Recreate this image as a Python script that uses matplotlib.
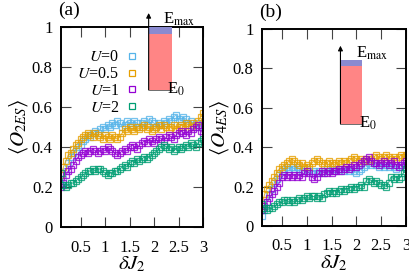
import matplotlib
matplotlib.use("Agg")
import matplotlib.pyplot as plt
from matplotlib.patches import Rectangle

plt.rcParams['font.family'] = ['Liberation Serif', 'DejaVu Serif']
plt.rcParams['mathtext.fontset'] = 'stix'
plt.rcParams['font.size'] = 11

x = [0.10, 0.15, 0.20, 0.25, 0.30, 0.35, 0.40, 0.45, 0.50, 0.55,
     0.60, 0.65, 0.70, 0.75, 0.80, 0.85, 0.90, 0.95, 1.00, 1.05,
     1.10, 1.15, 1.20, 1.25, 1.30, 1.35, 1.40, 1.45, 1.50, 1.55,
     1.60, 1.65, 1.70, 1.75, 1.80, 1.85, 1.90, 1.95, 2.00, 2.05,
     2.10, 2.15, 2.20, 2.25, 2.30, 2.35, 2.40, 2.45, 2.50, 2.55,
     2.60, 2.65, 2.70, 2.75, 2.80, 2.85, 2.90, 2.95, 3.00]

labels = ["$U$=0", "$U$=0.5", "$U$=1", "$U$=2"]
colors = ["#56B4E9", "#E69F00", "#9400D3", "#009E73"]

# panel (a): <O_2ES>
a_U0 = [0.21, 0.24, 0.28, 0.32, 0.35, 0.37, 0.38, 0.40, 0.41, 0.43,
        0.44, 0.46, 0.45, 0.47, 0.48, 0.47, 0.49, 0.50, 0.49, 0.51,
        0.50, 0.52, 0.51, 0.53, 0.52, 0.50, 0.51, 0.53, 0.52, 0.51,
        0.53, 0.52, 0.50, 0.52, 0.53, 0.51, 0.54, 0.53, 0.52, 0.50,
        0.52, 0.51, 0.53, 0.52, 0.54, 0.53, 0.55, 0.56, 0.54, 0.53,
        0.55, 0.54, 0.52, 0.53, 0.51, 0.52, 0.50, 0.51, 0.52]
a_U05 = [0.26, 0.30, 0.33, 0.36, 0.37, 0.39, 0.41, 0.42, 0.44, 0.45,
         0.46, 0.47, 0.46, 0.45, 0.47, 0.46, 0.45, 0.44, 0.46, 0.45,
         0.44, 0.46, 0.45, 0.44, 0.45, 0.47, 0.49, 0.48, 0.50, 0.49,
         0.48, 0.50, 0.49, 0.50, 0.51, 0.49, 0.50, 0.48, 0.49, 0.50,
         0.51, 0.49, 0.51, 0.50, 0.49, 0.50, 0.51, 0.49, 0.50, 0.51,
         0.50, 0.52, 0.51, 0.50, 0.52, 0.51, 0.53, 0.55, 0.57]
a_U1 = [0.20, 0.22, 0.26, 0.28, 0.29, 0.31, 0.33, 0.35, 0.36, 0.37,
        0.38, 0.37, 0.38, 0.39, 0.38, 0.37, 0.38, 0.39, 0.38, 0.40,
        0.39, 0.38, 0.37, 0.36, 0.37, 0.38, 0.39, 0.38, 0.40, 0.41,
        0.40, 0.39, 0.41, 0.42, 0.43, 0.42, 0.44, 0.43, 0.42, 0.44,
        0.45, 0.44, 0.43, 0.45, 0.46, 0.45, 0.44, 0.46, 0.47, 0.48,
        0.47, 0.46, 0.48, 0.47, 0.49, 0.50, 0.51, 0.48, 0.47]
a_U2 = [0.27, 0.21, 0.20, 0.21, 0.22, 0.22, 0.23, 0.24, 0.25, 0.26,
        0.27, 0.28, 0.28, 0.29, 0.28, 0.29, 0.29, 0.28, 0.27, 0.26,
        0.27, 0.27, 0.28, 0.28, 0.29, 0.30, 0.31, 0.30, 0.32, 0.33,
        0.32, 0.34, 0.33, 0.34, 0.35, 0.34, 0.35, 0.36, 0.37, 0.38,
        0.39, 0.40, 0.41, 0.40, 0.39, 0.40, 0.38, 0.39, 0.40, 0.39,
        0.40, 0.41, 0.40, 0.42, 0.41, 0.40, 0.42, 0.43, 0.44]

# panel (b): <O_4ES>
b_U0 = [0.05, 0.08, 0.12, 0.16, 0.19, 0.22, 0.24, 0.26, 0.28, 0.29,
        0.30, 0.29, 0.30, 0.29, 0.30, 0.29, 0.28, 0.28, 0.29, 0.28,
        0.27, 0.28, 0.27, 0.28, 0.27, 0.28, 0.29, 0.28, 0.29, 0.28,
        0.29, 0.28, 0.29, 0.28, 0.29, 0.28, 0.29, 0.28, 0.27, 0.28,
        0.29, 0.30, 0.31, 0.32, 0.31, 0.32, 0.31, 0.30, 0.31, 0.30,
        0.31, 0.30, 0.31, 0.30, 0.29, 0.30, 0.31, 0.30, 0.31]
b_U05 = [0.10, 0.16, 0.19, 0.21, 0.23, 0.25, 0.27, 0.29, 0.30, 0.31,
         0.32, 0.33, 0.34, 0.33, 0.32, 0.31, 0.32, 0.30, 0.31, 0.30,
         0.32, 0.33, 0.34, 0.33, 0.32, 0.31, 0.32, 0.33, 0.32, 0.31,
         0.32, 0.33, 0.32, 0.33, 0.32, 0.33, 0.34, 0.35, 0.34, 0.33,
         0.34, 0.33, 0.34, 0.33, 0.34, 0.35, 0.36, 0.35, 0.34, 0.35,
         0.36, 0.35, 0.34, 0.35, 0.34, 0.35, 0.36, 0.35, 0.36]
b_U1 = [0.08, 0.10, 0.12, 0.14, 0.16, 0.18, 0.20, 0.22, 0.25, 0.26,
        0.25, 0.26, 0.25, 0.26, 0.25, 0.26, 0.25, 0.27, 0.28, 0.27,
        0.25, 0.24, 0.25, 0.27, 0.28, 0.27, 0.27, 0.28, 0.27, 0.28,
        0.28, 0.29, 0.28, 0.29, 0.30, 0.29, 0.30, 0.31, 0.30, 0.31,
        0.32, 0.33, 0.34, 0.35, 0.33, 0.32, 0.32, 0.31, 0.32, 0.33,
        0.32, 0.31, 0.32, 0.33, 0.31, 0.30, 0.31, 0.32, 0.33]
b_U2 = [0.11, 0.09, 0.08, 0.09, 0.09, 0.10, 0.11, 0.12, 0.12, 0.13,
        0.13, 0.12, 0.13, 0.12, 0.13, 0.14, 0.13, 0.14, 0.15, 0.14,
        0.15, 0.15, 0.14, 0.15, 0.14, 0.16, 0.17, 0.18, 0.17, 0.18,
        0.17, 0.18, 0.19, 0.18, 0.19, 0.19, 0.20, 0.19, 0.20, 0.20,
        0.21, 0.20, 0.23, 0.24, 0.23, 0.22, 0.23, 0.22, 0.21, 0.21,
        0.20, 0.22, 0.25, 0.24, 0.25, 0.24, 0.25, 0.27, 0.29]

xticks = [0.5, 1, 1.5, 2, 2.5, 3]
xticklabels = ["0.5", "1", "1.5", "2", "2.5", "3"]
yticks = [0, 0.2, 0.4, 0.6, 0.8, 1]
yticklabels = ["0", "0.2", "0.4", "0.6", "0.8", "1"]

fig = plt.figure(figsize=(4.09, 2.74), dpi=100)
W, H = 409.0, 274.0
axa = fig.add_axes([61 / W, 1 - 227 / H, 142 / W, 200 / H])
axb = fig.add_axes([262 / W, 1 - 226 / H, 144 / W, 197 / H])


def style(ax, ylabel, tag):
    ax.set_xlim(0.1, 3)
    ax.set_ylim(0, 1)
    ax.set_xticks(xticks)
    ax.set_xticklabels(xticklabels)
    ax.set_yticks(yticks)
    ax.set_yticklabels(yticklabels)
    ax.tick_params(direction='in', top=True, right=True, length=7,
                   width=0.8, color='#444444', labelsize=12, pad=6)
    ax.tick_params(axis='x', pad=9)
    for s in ax.spines.values():
        s.set_linewidth(1.4)
    ax.set_xlabel(r'$\delta J_2$', fontsize=15, labelpad=-1)
    ax.set_ylabel(ylabel, fontsize=15, labelpad=1)
    ax.text(-0.02, 1.04, tag, transform=ax.transAxes, fontsize=14,
            ha='left', va='bottom')


for ax, series in ((axa, [a_U0, a_U05, a_U1, a_U2]),
                   (axb, [b_U0, b_U05, b_U1, b_U2])):
    for ys, c, lab in zip(series, colors, labels):
        ax.plot(x, ys, color=c, lw=0.7, marker='s', ms=4.5, mfc='none',
                mew=0.9, alpha=0.8, label=lab)

style(axa, r'$\langle O_{2ES}\rangle$', '(a)')
style(axb, r'$\langle O_{4ES}\rangle$', '(b)')

leg = axa.legend(loc='upper left', bbox_to_anchor=(0.07, 0.92),
                 frameon=False, markerfirst=False, handlelength=0.6,
                 handletextpad=0.5, labelspacing=0.05, fontsize=11.5,
                 borderaxespad=0)
for h in leg.legend_handles:
    h.set_linestyle('none')
    h.set_markersize(4)
    h.set_alpha(1)


def inset(ax, x0, x1, y_red0, y_red1, y_blue1, y_arrow, t_max, t0):
    ax.add_patch(Rectangle((x0, y_red0), x1 - x0, y_red1 - y_red0,
                           facecolor='#ff8585', edgecolor='none',
                           zorder=6, clip_on=False))
    ax.add_patch(Rectangle((x0, y_red1), x1 - x0, y_blue1 - y_red1,
                           facecolor='#8a8ad0', edgecolor='none',
                           zorder=6, clip_on=False))
    ax.plot([x0, x1], [y_red0, y_red0], color='#555555', lw=0.6,
            zorder=7, clip_on=False)
    ax.annotate('', xy=(x0, y_arrow), xytext=(x0, y_red0),
                arrowprops=dict(arrowstyle='-|>', lw=0.8, color='black',
                                mutation_scale=7, shrinkA=0, shrinkB=0),
                zorder=8, annotation_clip=False)
    ax.text(t_max[0], t_max[1], r'E$_{\mathrm{max}}$', fontsize=12,
            ha='left', va='baseline', zorder=8, clip_on=False)
    ax.text(t0[0], t0[1], r'E$_{\mathrm{0}}$', fontsize=12,
            ha='left', va='baseline', zorder=8, clip_on=False)


inset(axa, 1.89, 2.36, 0.685, 0.965, 1.0, 1.07, (2.18, 1.015), (2.26, 0.665))
inset(axb, 1.68, 2.12, 0.52, 0.81, 0.845, 0.915, (2.0, 0.855), (2.06, 0.50))

fig.savefig('out.png', dpi=100)
